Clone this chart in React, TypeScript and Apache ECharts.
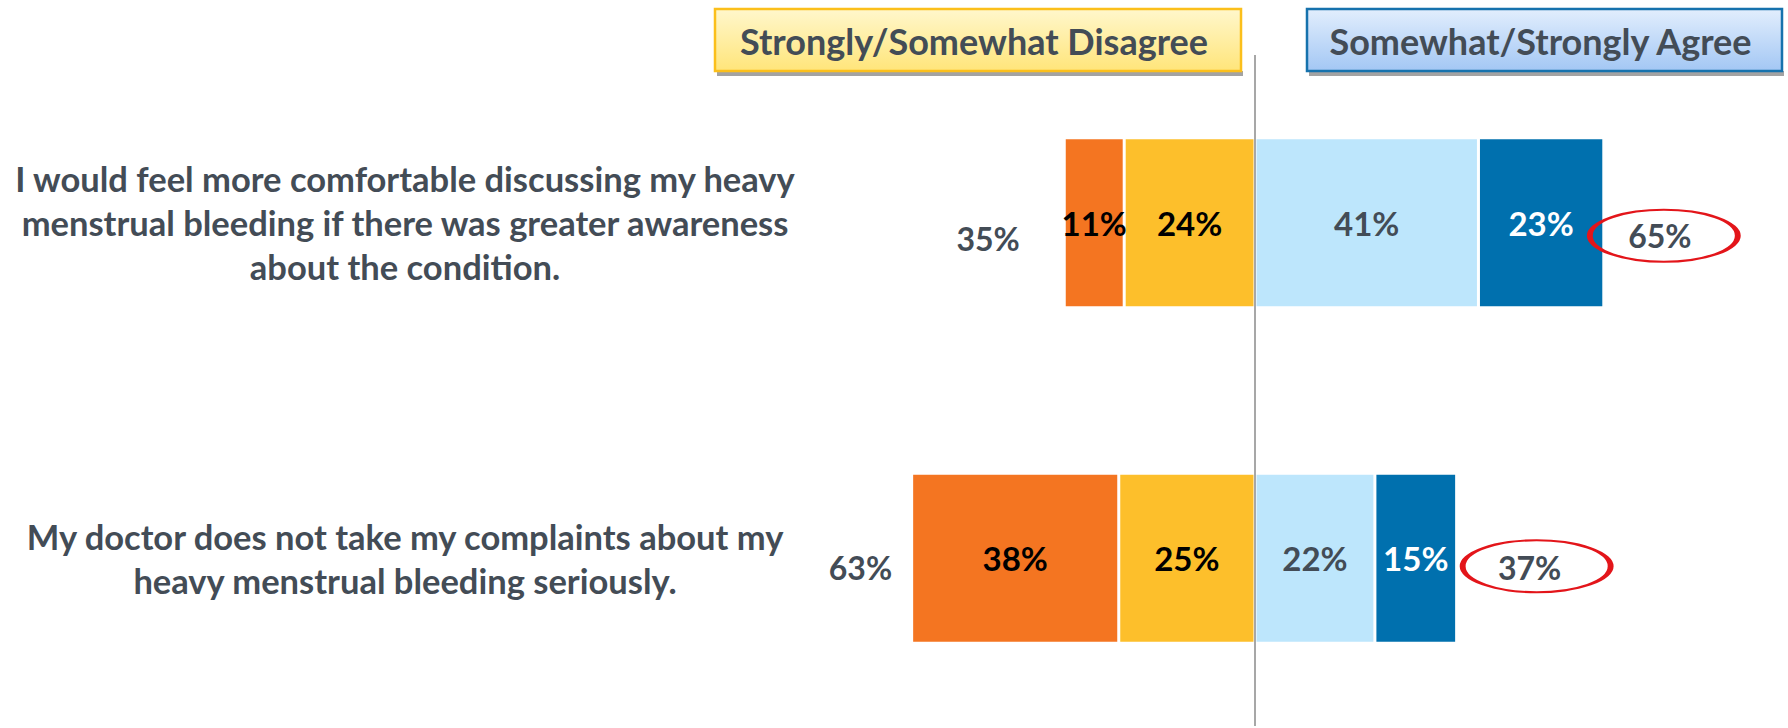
import React, { useEffect, useRef } from "react";
import * as echarts from "echarts";

const statements = [
  "I would feel more comfortable discussing my heavy\nmenstrual bleeding if there was greater awareness\nabout the condition.",
  "My doctor does not take my complaints about my\nheavy menstrual bleeding seriously.",
];
const stronglyDisagree = [11, 38];
const somewhatDisagree = [24, 25];
const somewhatAgree = [41, 22];
const stronglyAgree = [23, 15];
const disagreeTotals = [35, 63];
const agreeTotals = [65, 37];
const headerLabels = ["Strongly/Somewhat Disagree", "Somewhat/Strongly Agree"];

const TEXT = "#434c56";
const FONT = "Lato, 'Open Sans', sans-serif";

export default function App() {
  const ref = useRef<HTMLDivElement>(null);
  useEffect(() => {
    if (!ref.current) return;
    const chart = echarts.init(ref.current, null, { renderer: "svg" });

    const pct = (v: number) => `${Math.abs(v)}%`;
    const inBarLabel = (color: string) => ({
      show: true,
      position: "inside" as const,
      formatter: (p: any) => pct(p.value),
      color,
      fontSize: 33,
      fontWeight: "bold" as const,
      fontFamily: FONT,
    });
    const barCommon = {
      type: "bar" as const,
      stack: "total",
      barWidth: 170,
      itemStyle: { borderColor: "#ffffff", borderWidth: 1.5 },
    };

    const leftDistances = [44, 19];
    const leftOffsets = [[0, 16], [0, 9]];
    const ellipseOffsets = [[60, 13], [80, 8]];
    const ellipseLabelOffsets = [[-4, 0], [-7, 1]];

    const header = (x: number, w: number, text: string, top: string, bottom: string, border: string) => ({
      type: "group",
      children: [
        { type: "rect", shape: { x: x + 2, y: 71, width: w, height: 5 }, style: { fill: "#a3a3a3" } },
        {
          type: "rect",
          shape: { x, y: 9, width: w, height: 62 },
          style: {
            fill: new echarts.graphic.LinearGradient(0, 0, 0, 1, [
              { offset: 0, color: top },
              { offset: 1, color: bottom },
            ]),
            stroke: border,
            lineWidth: 2.5,
          },
        },
        {
          type: "text",
          x: x + w / 2 - 4,
          y: 41,
          style: {
            text,
            fill: TEXT,
            font: `bold 36px ${FONT}`,
            textAlign: "center",
            textVerticalAlign: "middle",
          },
        },
      ],
    });

    chart.setOption({
      animation: false,
      grid: { left: 819, right: 42.5, top: 55, bottom: 2, containLabel: false },
      xAxis: { type: "value", min: -80, max: 90, show: false },
      yAxis: {
        type: "category",
        data: statements,
        inverse: true,
        axisLine: { show: false },
        axisTick: { show: false },
        axisLabel: {
          margin: 414,
          align: "center",
          color: TEXT,
          fontSize: 34.5,
          lineHeight: 44,
          fontWeight: "bold",
          fontFamily: FONT,
        },
      },
      series: [
        {
          ...barCommon,
          name: "Somewhat Disagree",
          data: somewhatDisagree.map((v) => -v),
          itemStyle: { ...barCommon.itemStyle, color: "#fdbf2b" },
          label: inBarLabel("#000000"),
          markLine: {
            silent: true,
            symbol: "none",
            label: { show: false },
            lineStyle: { color: "#8a8a8a", width: 1.5, type: "solid" },
            data: [{ xAxis: 0 }],
          },
        },
        {
          ...barCommon,
          name: "Strongly Disagree",
          data: stronglyDisagree.map((v) => -v),
          itemStyle: { ...barCommon.itemStyle, color: "#f47521" },
          label: inBarLabel("#000000"),
        },
        {
          ...barCommon,
          name: "Somewhat Agree",
          data: somewhatAgree,
          itemStyle: { ...barCommon.itemStyle, color: "#bde6fc" },
          label: inBarLabel(TEXT),
        },
        {
          ...barCommon,
          name: "Strongly Agree",
          data: stronglyAgree,
          itemStyle: { ...barCommon.itemStyle, color: "#0070ae" },
          label: inBarLabel("#ffffff"),
        },
        {
          type: "scatter",
          name: "Disagree total",
          symbolSize: 1,
          clip: false,
          itemStyle: { color: "rgba(0,0,0,0)", opacity: 1 },
          label: {
            show: true,
            position: "left",
            formatter: (p: any) => `${disagreeTotals[p.dataIndex]}%`,
            color: TEXT,
            fontSize: 32,
            fontWeight: "bold",
            fontFamily: FONT,
          },
          data: disagreeTotals.map((_, i) => ({
            value: [-(stronglyDisagree[i] + somewhatDisagree[i]), i],
            label: { distance: leftDistances[i], offset: leftOffsets[i] },
          })),
        },
        {
          type: "scatter",
          name: "Agree total",
          symbol: "path://M-1,0A1,1 0 1,0 1,0A1,1 0 1,0 -1,0Z",
          symbolSize: [148, 52],
          clip: false,
          itemStyle: { color: "rgba(0,0,0,0)", borderColor: "#e3151a", borderWidth: 3.5, opacity: 1 },
          label: {
            show: true,
            position: "inside",
            formatter: (p: any) => `${agreeTotals[p.dataIndex]}%`,
            color: TEXT,
            fontSize: 32,
            fontWeight: "bold",
            fontFamily: FONT,
          },
          data: agreeTotals.map((_, i) => ({
            value: [somewhatAgree[i] + stronglyAgree[i], i],
            symbolOffset: ellipseOffsets[i],
            label: { offset: ellipseLabelOffsets[i] },
          })),
        },
      ],
      graphic: [
        header(715, 526, headerLabels[0], "#fff7cc", "#ffe57a", "#fbbf1b"),
        header(1307, 475, headerLabels[1], "#e2eefd", "#a3c7f4", "#1672ad"),
      ],
    });

    return () => chart.dispose();
  }, []);

  return (
    <div
      ref={ref}
      style={{ position: "absolute", left: 0, top: 0, width: 1788, height: 728, background: "#ffffff" }}
    />
  );
}
